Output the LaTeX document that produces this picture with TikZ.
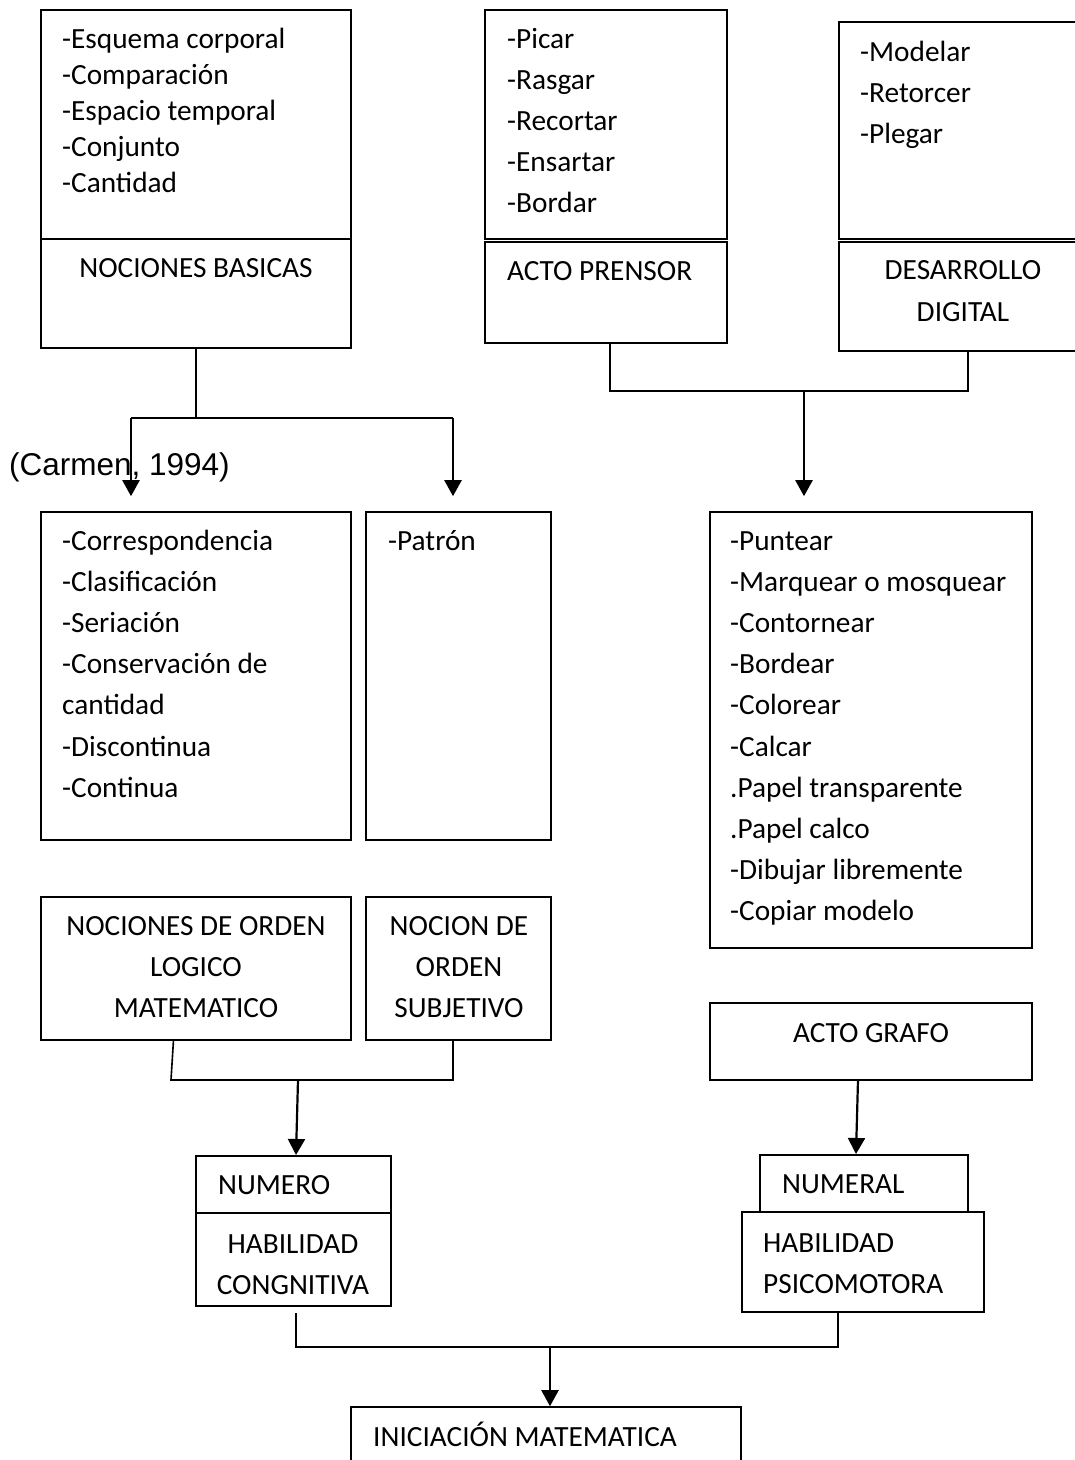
\documentclass[tikz,border=0pt]{standalone}
\usepackage{fontspec}
\setmainfont{Carlito}
\newfontfamily\arialf{Liberation Sans}
\usetikzlibrary{arrows.meta,fit}
\begin{document}
\begin{tikzpicture}[x=1pt,y=-1pt,
  box/.style={draw, line width=1.6pt, rectangle, inner sep=0pt},
  txt/.style={inner sep=0pt, font=\fontsize{29.3}{41}\selectfont},
  lnk/.style={line width=1.6pt},
  arr/.style={line width=2.2pt, -{Triangle[width=17pt,length=16pt]}}]
\useasboundingbox (0,0) rectangle (1075,1460);
\begin{scope}
\clip (0,0) rectangle (1075,1460);
% boxes
\node[box, fit={(41,10) (351,239)}] (nbT) {};
\node[box, fit={(41,239) (351,348)}] (nbB) {};
\node[box, fit={(485,10) (727,239)}] (apT) {};
\node[box, fit={(485,242) (727,343)}] (apB) {};
\node[box, fit={(839,22) (1090,239)}] (ddT) {};
\node[box, fit={(839,242) (1090,351)}] (ddB) {};
\node[box, fit={(41,512) (351,840)}] (corr) {};
\node[box, fit={(366,512) (551,840)}] (pat) {};
\node[box, fit={(710,512) (1032,948)}] (punt) {};
\node[box, fit={(41,897) (351,1040)}] (nol) {};
\node[box, fit={(366,897) (551,1040)}] (nos) {};
\node[box, fit={(710,1003) (1032,1080)}] (grafo) {};
\node[box, fit={(196,1156) (391,1213)}] (numT) {};
\node[box, fit={(196,1213) (391,1306)}] (numB) {};
\node[box, fit={(760,1155) (968,1212)}] (nrlT) {};
\node[box, fit={(742,1212) (984,1312)}] (nrlB) {};
\node[box, fit={(351,1407) (741,1480)}] (ini) {};
\end{scope}

% texts
\foreach \t [count=\i] in {-Esquema corporal,-Comparación,-Espacio temporal,-Conjunto,-Cantidad}
  \node[txt, anchor=base west] (nbl\i) at (62,12+36*\i) {\t};
\node[txt, anchor=base] (nbtitle) at (196,277) {NOCIONES BASICAS};

\foreach \t [count=\i] in {-Picar,-Rasgar,-Recortar,-Ensartar,-Bordar}
  \node[txt, anchor=base west] (apl\i) at (507,6.8+41.2*\i) {\t};
\node[txt, anchor=base west] (aptitle) at (507,280) {ACTO PRENSOR};

\foreach \t [count=\i] in {-Modelar,-Retorcer,-Plegar}
  \node[txt, anchor=base west] (ddl\i) at (860,19.8+41.2*\i) {\t};
\node[txt, anchor=base] (ddt1) at (963,279) {DESARROLLO};
\node[txt, anchor=base] (ddt2) at (963,321) {DIGITAL};

\node[inner sep=0pt, anchor=base west, font=\arialf\fontsize{31.5}{36}\selectfont] (cite) at (9,475) {(Carmen, 1994)};

\foreach \t [count=\i] in {-Correspondencia,-Clasificación,-Seriación,-Conservación de,cantidad,-Discontinua,-Continua}
  \node[txt, anchor=base west] (crl\i) at (62,508.8+41.2*\i) {\t};
\node[txt, anchor=base west] (patl) at (388,550) {-Patrón};

\foreach \t [count=\i] in {-Puntear,-Marquear o mosquear,-Contornear,-Bordear,-Colorear,-Calcar,.Papel transparente,.Papel calco,-Dibujar libremente,-Copiar modelo}
  \node[txt, anchor=base west] (pul\i) at (730,508.8+41.2*\i) {\t};

\node[txt, anchor=base] (nol1) at (196,935) {NOCIONES DE ORDEN};
\node[txt, anchor=base] (nol2) at (196,976) {LOGICO};
\node[txt, anchor=base] (nol3) at (196,1017) {MATEMATICO};
\node[txt, anchor=base] (nos1) at (459,935) {NOCION DE};
\node[txt, anchor=base] (nos2) at (459,976) {ORDEN};
\node[txt, anchor=base] (nos3) at (459,1017) {SUBJETIVO};

\node[txt, anchor=base] (grafot) at (871,1042) {ACTO GRAFO};

\node[txt, anchor=base west] (numt) at (218,1194) {NUMERO};
\node[txt, anchor=base] (hab1) at (293,1253) {HABILIDAD};
\node[txt, anchor=base] (hab2) at (293,1294) {CONGNITIVA};

\node[txt, anchor=base west] (nrlt) at (782,1193) {NUMERAL};
\node[txt, anchor=base west] (psi1) at (763,1252) {HABILIDAD};
\node[txt, anchor=base west] (psi2) at (763,1293) {PSICOMOTORA};

\node[txt, anchor=base west] (init) at (373,1446) {INICIACIÓN MATEMATICA};

% connectors
\coordinate (j1) at (196,418);
\coordinate (j1l) at (131,418);
\coordinate (j1r) at (453,418);
\draw[lnk] (nbB.south) -- (j1);
\draw[lnk] (j1l) -- (j1r);
\draw[arr] (j1l) -- ([yshift=15pt]j1l |- corr.north);
\draw[arr] (j1r) -- ([yshift=15pt]j1r |- pat.north);

\coordinate (j2l) at (610,391);
\coordinate (j2r) at (968,391);
\coordinate (j2m) at (804,391);
\draw[lnk] (j2l |- apB.south) -- (j2l) -- (j2r) -- (j2r |- ddB.south);
\draw[arr] (j2m) -- ([yshift=15pt]j2m |- punt.north);

\coordinate (j3t) at (173.5,1040);
\coordinate (j3l) at (171,1080);
\coordinate (j3r) at (453,1080);
\coordinate (j3m) at (298,1080);
\coordinate (j3e) at (296,1155);
\draw[lnk] (j3t) -- (j3l) -- (j3r) -- (j3r |- nos.south);
\draw[arr] (j3m) -- (j3e);

\coordinate (g1) at (858,1080);
\coordinate (g2) at (856,1154);
\draw[arr] (g1) -- (g2);

\coordinate (j4a) at (296,1313);
\coordinate (j4l) at (296,1347);
\coordinate (j4r) at (838,1347);
\coordinate (j4m) at (550,1347);
\draw[lnk] (j4a) -- (j4l) -- (j4r) -- (j4r |- nrlB.south);
\draw[arr] (j4m) -- (j4m |- ini.north);
\end{tikzpicture}
\end{document}
